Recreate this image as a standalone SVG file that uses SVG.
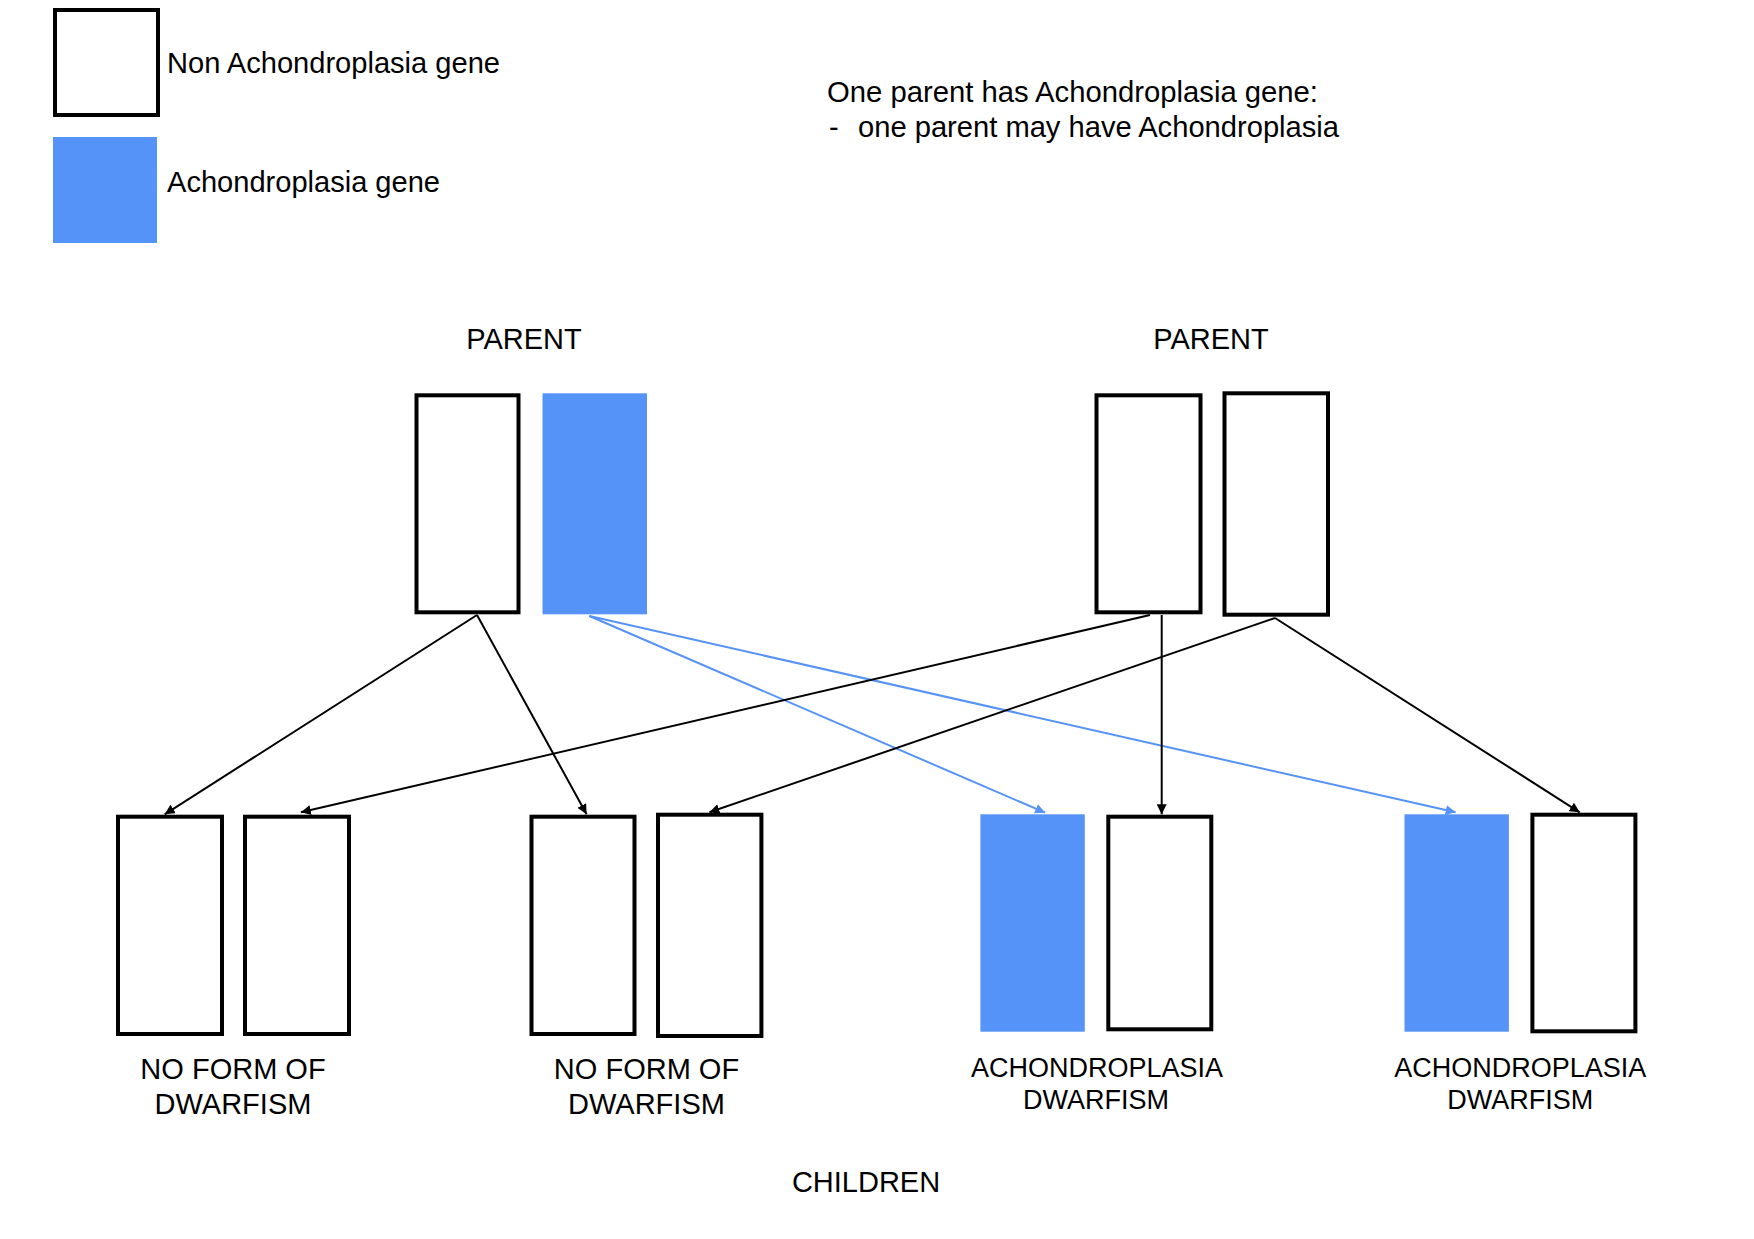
<svg xmlns="http://www.w3.org/2000/svg" width="1754" height="1239" viewBox="0 0 1754 1239">
<defs>
<style>
.w{fill:#ffffff;stroke:#000000;stroke-width:4}
.b{fill:#5593f8;stroke:none}
.t{font-family:"Liberation Sans",Arial,Helvetica,sans-serif;fill:#000000}
.l{font-size:29px}
.c{font-size:29px;text-anchor:middle}
.a{font-size:27px;text-anchor:middle}
.k{stroke:#000000;stroke-width:2;fill:none}
.bl{stroke:#5593f8;stroke-width:2;fill:none}
</style>
<marker id="ak" viewBox="0 0 10 10" refX="10" refY="5" markerWidth="5" markerHeight="5" orient="auto" markerUnits="strokeWidth"><path d="M0,0 L10,5 L0,10 z" fill="#000000"/></marker>
<marker id="ab" viewBox="0 0 10 10" refX="10" refY="5" markerWidth="5" markerHeight="5" orient="auto" markerUnits="strokeWidth"><path d="M0,0 L10,5 L0,10 z" fill="#5593f8"/></marker>
</defs>
<rect width="1754" height="1239" fill="#ffffff"/>

<g id="legend-non">
<rect class="w" x="55" y="10" width="103" height="105"/>
<text class="t l" x="167" y="73" textLength="333" lengthAdjust="spacingAndGlyphs">Non Achondroplasia gene</text>
</g>
<g id="legend-ach">
<rect class="b" x="53" y="137" width="104" height="106"/>
<text class="t l" x="167" y="192" textLength="273" lengthAdjust="spacingAndGlyphs">Achondroplasia gene</text>
</g>
<g id="note">
<text class="t l" x="827" y="101.5" textLength="491" lengthAdjust="spacingAndGlyphs">One parent has Achondroplasia gene:</text>
<text class="t l" x="829" y="137">-</text>
<text class="t l" x="858" y="137" textLength="481" lengthAdjust="spacingAndGlyphs">one parent may have Achondroplasia</text>
</g>

<g id="parent1">
<text class="t l" x="524" y="349" text-anchor="middle">PARENT</text>
<rect class="w" x="416.5" y="395.3" width="102" height="217"/>
<rect class="b" x="542.5" y="393.3" width="104.5" height="221"/>
</g>
<g id="parent2">
<text class="t l" x="1211" y="349" text-anchor="middle">PARENT</text>
<rect class="w" x="1096.5" y="395.3" width="104" height="217"/>
<rect class="w" x="1224.5" y="393.3" width="103.5" height="221.4"/>
</g>

<g id="child1">
<rect class="w" x="118" y="816.7" width="104" height="217.3"/>
<rect class="w" x="245" y="816.7" width="104" height="217.3"/>
<text class="t c" x="233" y="1079">NO FORM OF</text>
<text class="t c" x="233" y="1114">DWARFISM</text>
</g>
<g id="child2">
<rect class="w" x="531.5" y="816.7" width="103" height="217.3"/>
<rect class="w" x="658" y="814.7" width="103.4" height="221.3"/>
<text class="t c" x="646.5" y="1079">NO FORM OF</text>
<text class="t c" x="646.5" y="1114">DWARFISM</text>
</g>
<g id="child3">
<rect class="b" x="980.4" y="814.3" width="104.4" height="217.4"/>
<rect class="w" x="1108.3" y="816.7" width="103" height="212.6"/>
<text class="t a" x="1097" y="1077">ACHONDROPLASIA</text>
<text class="t a" x="1096" y="1109">DWARFISM</text>
</g>
<g id="child4">
<rect class="b" x="1404.5" y="814.3" width="104.4" height="217.4"/>
<rect class="w" x="1532.4" y="814.7" width="103" height="216.6"/>
<text class="t a" x="1520.3" y="1077">ACHONDROPLASIA</text>
<text class="t a" x="1520.3" y="1109">DWARFISM</text>
</g>
<g id="children-label">
<text class="t c" x="866" y="1192">CHILDREN</text>
</g>

<g id="connectors">
<line class="k" x1="477" y1="615" x2="164.7" y2="814.3" marker-end="url(#ak)"/>
<line class="k" x1="477" y1="615" x2="586.6" y2="814.3" marker-end="url(#ak)"/>
<line class="bl" x1="589.3" y1="616" x2="1045.2" y2="812.7" marker-end="url(#ab)"/>
<line class="bl" x1="589.3" y1="616" x2="1455.6" y2="812.3" marker-end="url(#ab)"/>
<line class="k" x1="1150" y1="615" x2="300.9" y2="812.3" marker-end="url(#ak)"/>
<line class="k" x1="1161.7" y1="615" x2="1161.7" y2="814.3" marker-end="url(#ak)"/>
<line class="k" x1="1275" y1="618" x2="709.4" y2="812.3" marker-end="url(#ak)"/>
<line class="k" x1="1275" y1="618" x2="1579.7" y2="812.3" marker-end="url(#ak)"/>
</g>
</svg>
